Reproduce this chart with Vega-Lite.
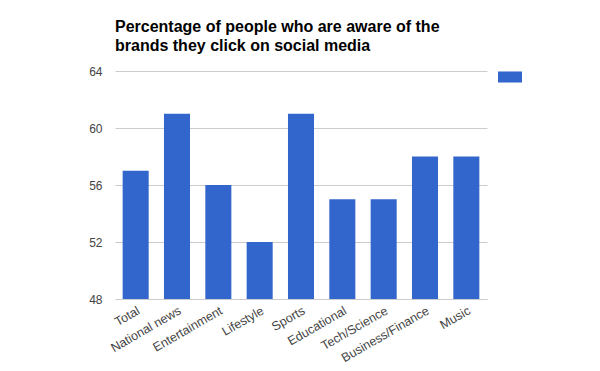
{
  "$schema": "https://vega.github.io/schema/vega-lite/v6.json",
  "width": 372,
  "height": 228,
  "autosize": {"type": "none"},
  "padding": {"left": 115, "top": 71, "right": 113, "bottom": 72},
  "background": "white",
  "title": {
    "text": ["Percentage of people who are aware of the", "brands they click on social media"],
    "anchor": "start",
    "frame": "group",
    "font": "Liberation Sans",
    "fontSize": 16,
    "fontWeight": "bold",
    "color": "#000000",
    "lineHeight": 19,
    "offset": 11
  },
  "config": {
    "view": {"stroke": null},
    "axis": {"labelFont": "Liberation Sans", "labelFontSize": 12, "labelColor": "#444444"}
  },
  "data": {
    "values": [
      {"category": "Total", "value": 57, "series": "s"},
      {"category": "National news", "value": 61, "series": "s"},
      {"category": "Entertainment", "value": 56, "series": "s"},
      {"category": "Lifestyle", "value": 52, "series": "s"},
      {"category": "Sports", "value": 61, "series": "s"},
      {"category": "Educational", "value": 55, "series": "s"},
      {"category": "Tech/Science", "value": 55, "series": "s"},
      {"category": "Business/Finance", "value": 58, "series": "s"},
      {"category": "Music", "value": 58, "series": "s"}
    ]
  },
  "mark": {"type": "bar", "clip": true},
  "encoding": {
    "x": {
      "field": "category",
      "type": "nominal",
      "sort": null,
      "scale": {"paddingInner": 0.37, "paddingOuter": 0.185},
      "axis": {
        "title": null,
        "labelAngle": -30,
        "labelAlign": "right",
        "labelBaseline": "top",
        "labelPadding": 5,
        "labelFontSize": 12.5,
        "ticks": false,
        "domainColor": "#cccccc",
        "labelOverlap": false
      }
    },
    "y": {
      "field": "value",
      "type": "quantitative",
      "scale": {"domain": [48, 64], "zero": false, "nice": false},
      "axis": {
        "title": null,
        "values": [48, 52, 56, 60, 64],
        "ticks": false,
        "domain": false,
        "gridColor": "#cccccc",
        "labelPadding": 13
      }
    },
    "color": {
      "field": "series",
      "type": "nominal",
      "scale": {"range": ["#3366cc"]},
      "legend": {
        "title": null,
        "labelExpr": "''",
        "orient": "none",
        "legendX": 383,
        "legendY": -6,
        "symbolType": "M-1,-0.46H1V0.46H-1Z",
        "symbolSize": 576,
        "symbolStrokeWidth": 0,
        "symbolOpacity": 1
      }
    }
  }
}
